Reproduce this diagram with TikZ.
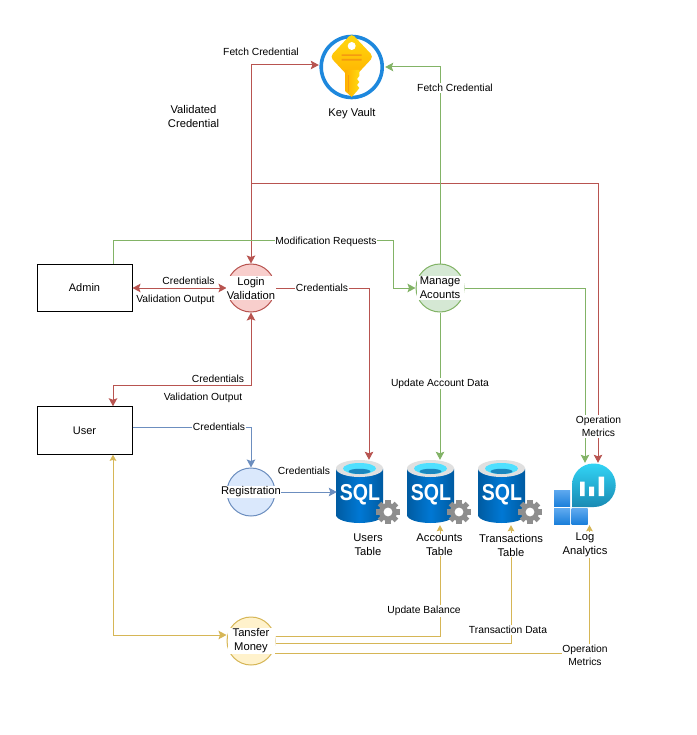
\documentclass[tikz,border=0pt]{standalone}
\usepackage{graphicx}
\usepackage{fontspec}
\setmainfont{Liberation Sans}
\usetikzlibrary{arrows.meta,calc,shapes.geometric}
\definecolor{redL}{HTML}{B85450}\definecolor{redF}{HTML}{F8CECC}
\definecolor{greenL}{HTML}{82B366}\definecolor{greenF}{HTML}{D5E8D4}
\definecolor{blueL}{HTML}{6C8EBF}\definecolor{blueF}{HTML}{DAE8FC}
\definecolor{yelL}{HTML}{D6B656}\definecolor{yelF}{HTML}{FFF2CC}
\definecolor{sqlD}{HTML}{005BA1}\definecolor{sqlM}{HTML}{0078D4}
\definecolor{gearC}{HTML}{8E8E8E}\definecolor{ringC}{HTML}{1E88DD}
\definecolor{keyA}{HTML}{FFD90F}\definecolor{keyB}{HTML}{FFB000}\definecolor{keyC}{HTML}{F59A10}
\definecolor{logA}{HTML}{32D4F5}\definecolor{logB}{HTML}{198AB3}
\definecolor{sqA}{HTML}{5EA9EF}\definecolor{sqB}{HTML}{1B7FDA}
\definecolor{capA}{HTML}{50E0FF}\definecolor{capB}{HTML}{1A86BE}
\tikzset{
 box/.style={draw=black,fill=white,line width=1pt,minimum width=95pt,minimum height=47.5pt,font=\fontsize{11}{13}\selectfont},
 proc/.style={circle,line width=1pt,minimum size=48pt,inner sep=0pt},
 proctext/.style={fill=white,inner sep=.6pt,align=center,minimum width=47pt,font=\fontsize{11.2}{14}\selectfont},
 lbl/.style={fill=white,inner sep=.8pt,align=center,font=\fontsize{10.3}{13}\selectfont},
 plain/.style={inner sep=.5pt,align=center,font=\fontsize{11.2}{14}\selectfont},
 icon/.style={inner sep=0pt,minimum width=64pt},
 bighead/.tip={Stealth[length=8pt,width=8.5pt,inset=1.5pt]},
 tinyhead/.tip={Stealth[length=6pt,width=6.5pt,inset=.8pt]},
 redc/.style={draw=redL,line width=1pt},
 greenc/.style={draw=greenL,line width=1pt},
 bluec/.style={draw=blueL,line width=1pt},
 yelc/.style={draw=yelL,line width=1pt},
}
\newcommand{\sqlicon}[1]{% #1 = left edge of the cylinder
 \begin{scope}[shift={(#1,0)}]
  \shade[left color=sqlD,right color=sqlD,middle color=sqlM]
   (0,468.5) -- (0,515) arc[start angle=180,end angle=0,x radius=23.5,y radius=8] -- (47,468.5) -- cycle;
  \fill[white!88!black] (23.5,468.5) ellipse[x radius=23.5,y radius=8.5];
  \fill[capA] (23.5,468.5) ellipse[x radius=16.5,y radius=5.5];
  \fill[capB] (23.5,471.4) ellipse[x radius=11,y radius=2.6];
  \node[text=white,font=\bfseries\fontsize{23}{24}\selectfont,inner sep=0pt] at (24,495) {\scalebox{0.85}[1]{SQL}};
  \begin{scope}[shift={(52,512)}]
   \fill[gearC] (0,0) circle[radius=9];
   \foreach \a in {0,45,...,315}
     \fill[gearC,rotate=\a] (-2.6,-12) rectangle (2.6,-6);
   \fill[white] (0,0) circle[radius=4.4];
  \end{scope}
 \end{scope}}
\begin{document}
\begin{tikzpicture}[x=1pt,y=-1pt]
\useasboundingbox (0,0) rectangle (696,735);
\fill[white] (0,0) rectangle (696,735);

% nodes
\node[box] (admin) at (84.5,288) {Admin};
\node[box] (user) at (84.5,430.5) {User};
\node[proc,draw=redL,fill=redF] (login) at (251,288) {};
\node[proc,draw=greenL,fill=greenF] (manage) at (440,288) {};
\node[proc,draw=blueL,fill=blueF] (reg) at (251,492) {};
\node[proc,draw=yelL,fill=yelF] (tansfer) at (251,641) {};
\node[circle,inner sep=0pt,minimum size=66pt] (vault) at (352,67) {};
\node[icon,minimum height=65pt] (users) at (369,492.5) {};
\node[icon,minimum height=65pt] (accts) at (440,492.5) {};
\node[icon,minimum height=65pt] (trans) at (511,492.5) {};
\node[icon,minimum height=62pt] (logs) at (585,494) {};
\coordinate (branch) at (251,183.5);

% key vault icon
\draw[line width=3.6pt,color=ringC] (351.7,67) circle[radius=30.5];
\shade[top color=keyA,bottom color=keyB,rounded corners=4pt]
 (351.7,33.5) -- (373.5,56.7) -- (351.7,80) -- (330,56.7) -- cycle;
\shade[left color=keyB,right color=keyA]
 (345,70) -- (359.3,70) -- (359.3,76) -- (357,79) -- (359.3,82) -- (357,85) -- (359.3,88) -- (357,91) -- (351.7,97) -- (345,91) -- cycle;
\fill[white] (351.7,46) circle[radius=4];
\fill[keyC] (341.7,54.5) rectangle (361.7,56) (341.7,59) rectangle (361.7,60.7);
\fill[keyC] (347.7,75) rectangle (349,92);

% SQL icons
\sqlicon{336}
\sqlicon{407}
\sqlicon{478}

% log analytics icon
\shade[top color=logA,bottom color=logB]
 (572,507) -- (572,485) arc[start angle=180,end angle=270,radius=21.5] -- (594,463.5) arc[start angle=-90,end angle=90,radius=21.75] -- cycle;
\fill[white] (580,481.7) rectangle (584.5,496) (589,486.7) rectangle (594,496) (598.7,476.7) rectangle (604,496);
\shade[top color=sqA,bottom color=sqB] (554,490) rectangle (570,506.7);
\shade[top color=sqA,bottom color=sqB] (554,508.7) rectangle (570,524);
\shade[top color=sqA,bottom color=sqB] (571.7,508.7) rectangle (587.7,524);

% connectors: red
\draw[redc,{bighead}-{bighead}] (login.north) |- ([yshift=2pt]vault.west);
\draw[redc,-{bighead}] (branch) -| ([xshift=13pt]logs.north);
\draw[redc,{bighead}-{bighead}] (admin.east) -- (login.west);
\draw[redc,{bighead}-{bighead}] (login.south) -- (251,385) -| ([xshift=28.5pt]user.north);
\draw[redc,-{bighead}] (login.east) -| (users.north);

% connectors: green
\draw[greenc,-{bighead}] ([xshift=28.5pt]admin.north) -- (113,240) -- (393,240) |- (manage.west);
\draw[greenc,-{bighead}] (manage.north) |- (vault.east);
\draw[greenc,-{bighead}] (manage.south) -- (manage.south |- accts.north);
\draw[greenc,-{bighead}] (manage.east) -| (logs.north);

% connectors: blue
\draw[bluec,-{bighead}] ([yshift=3.5pt]user.east) -| (reg.north);
\draw[bluec,-{bighead}] (reg.east) -- (reg.east -| users.west);

% connectors: yellow
\draw[yelc,{tinyhead}-{bighead}] ([xshift=28.5pt]user.south) |- ([yshift=6pt]tansfer.west);
\draw[yelc,-{tinyhead}] ([yshift=5pt]tansfer.east) -| (accts.south);
\draw[yelc,-{tinyhead}] ([yshift=-2pt]tansfer.east) -| (trans.south);
\draw[yelc,-{tinyhead}] ([yshift=-12pt,xshift=-2pt]tansfer.east) -| ([xshift=4.5pt]logs.south);

% node texts
\node[proctext] (logint) at (login) {Login\\Validation};
\node[proctext] (managet) at (manage) {Manage\\Acounts};
\node[proctext] (regt) at (reg) {Registration};
\node[proctext] (tansfert) at (tansfer) {Tansfer\\Money};
\node[plain] (vaultl) at (352,114) {Key Vault};
\node[plain] (usersl) at (368,545) {Users\\Table};
\node[plain,fill=white] (acctsl) at (439.5,545) {Accounts\\Table};
\node[plain,fill=white] (transl) at (511,545) {Transactions\\Table};
\node[plain,fill=white] (logsl) at (585,545) {Log\\Analytics};
\node[plain] (validated) at (193.5,116.2) {Validated\\Credential};

% connector labels
\node[lbl] (l1) at (261,52) {Fetch Credential};
\node[lbl] (l2) at (455,88) {Fetch Credential};
\node[lbl] (l3) at (326,242) {Modification Requests};
\node[lbl] (l4) at (188.5,280.5) {Credentials};
\node[lbl] (l5) at (175.5,299.5) {Validation Output};
\node[lbl] (l6) at (322,288) {Credentials};
\node[lbl] (l7) at (218,378.5) {Credentials};
\node[lbl] (l8) at (203,397.5) {Validation Output};
\node[lbl] (l9) at (219,427) {Credentials};
\node[lbl] (l10) at (304,470.5) {Credentials};
\node[lbl] (l11) at (440,383.5) {Update Account Data};
\node[lbl] (l12) at (598.5,426.5) {Operation\\Metrics};
\node[lbl] (l13) at (424,611) {Update Balance};
\node[lbl] (l14) at (508,630) {Transaction Data};
\node[lbl] (l15) at (585,655.5) {Operation\\Metrics};
\end{tikzpicture}
\end{document}
